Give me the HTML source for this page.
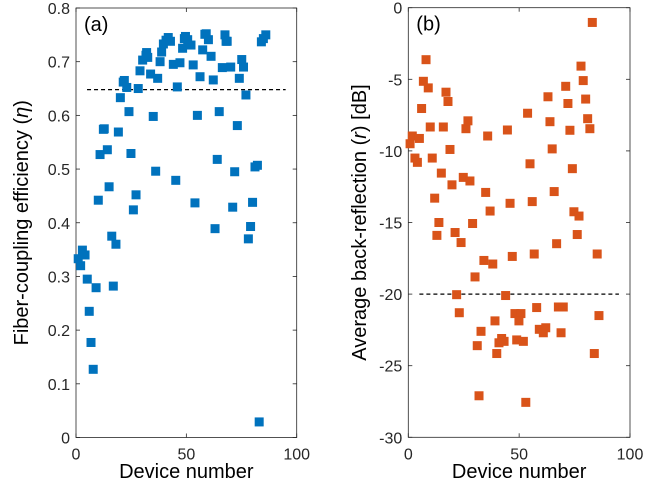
<!DOCTYPE html>
<html><head><meta charset="utf-8"><style>
html,body{margin:0;padding:0;background:#fff;}
svg{display:block;font-family:"Liberation Sans","DejaVu Sans",sans-serif;}
</style></head><body>
<svg id="fig" width="645" height="493" viewBox="0 0 645 493"></svg>
<script>
const devA=[2.9,10.1,10.9,12.4,12.8,14.2,15,16.2,18.1,19.2,20.1,21.4,21.9,23,24,24.9,26,27.2,28.2,29,30.2,31.7,32,32.5,33.8,35,36.1,37,38.1,38.8,39.6,40.8,41.8,42.8,44.1,45.2,45.9,47.1,48.3,49.1,49.6,50.6,52.1,53.1,53.9,55,56.2,57.4,58.4,59,60,61.2,62.2,63,64,64.9,66.3,67.5,68,68.5,70.1,71,71.9,73.1,74,75.1,75.9,77,78.1,79.1,80,81.1,82.2,84,84.9,86,1,2.1,4.1,5.1,6,6.8,7.8,9.1,16.9,83];
const effA=[0.349,0.442,0.527,0.574,0.575,0.536,0.467,0.375,0.360,0.569,0.633,0.662,0.665,0.652,0.607,0.529,0.424,0.452,0.650,0.683,0.703,0.712,0.717,0.708,0.677,0.598,0.496,0.669,0.700,0.718,0.733,0.740,0.745,0.738,0.695,0.479,0.653,0.698,0.725,0.743,0.747,0.741,0.731,0.694,0.437,0.600,0.672,0.722,0.751,0.752,0.741,0.710,0.666,0.389,0.518,0.607,0.689,0.750,0.738,0.738,0.690,0.429,0.495,0.581,0.669,0.704,0.690,0.638,0.370,0.393,0.438,0.504,0.507,0.737,0.743,0.750,0.333,0.320,0.340,0.295,0.235,0.177,0.127,0.279,0.282,0.029];
const devB=[0.8,1.8,3,4.1,5,6,6.8,8,9,9.9,10.8,11.9,12.9,13.8,14.9,15.8,17,17.9,18.8,19.7,21.1,23.8,24.8,26,26.9,27.8,29,34.9,35.8,36.9,44.7,45.9,53.8,54.9,55.9,63,63.9,64.9,65.8,66.9,71,72,72.9,74,74.7,77,76.2,77.9,78.9,80,80.9,81.9,83,85.2,56.8,34.1,38.1,30.1,46.9,21.8,23,43.9,48.1,50.8,49.9,57.9,67.7,69.9,86,39.1,32.8,59.1,60.9,62,68.9,42.1,43.2,40.9,48.9,51.9,31.1,39.9,83.9,31.9,53];
const refB=[-9.5,-8.96,-10.5,-10.8,-9.13,-7.04,-5.14,-3.63,-5.6,-8.33,-10.5,-13.3,-15.9,-15.0,-11.55,-8.33,-5.9,-6.55,-9.9,-12.37,-15.7,-16.4,-11.85,-8.45,-7.9,-12.1,-15.07,-12.9,-8.96,-14.2,-8.54,-13.66,-7.37,-10.9,-13.54,-6.22,-7.96,-9.86,-12.84,-16.48,-5.49,-6.69,-8.56,-11.24,-14.25,-14.55,-15.84,-4.08,-5.09,-6.38,-7.75,-8.45,-1.03,-17.2,-17.2,-17.65,-17.9,-18.8,-17.37,-20.04,-21.3,-20.1,-21.36,-21.36,-21.87,-20.94,-20.9,-20.9,-21.5,-21.87,-22.6,-22.46,-22.7,-22.35,-22.7,-23.1,-23.3,-23.4,-23.2,-23.3,-23.6,-24.15,-24.15,-27.1,-27.56];
const xTicks=[0,50,100];
const yTicksA=[0,0.1,0.2,0.3,0.4,0.5,0.6,0.7,0.8];
const yTicksB=[0,-5,-10,-15,-20,-25,-30];
const threshA=0.648, threshB=-20;

const NS="http://www.w3.org/2000/svg";
const svg=document.getElementById('fig');
function el(tag,attrs,parent){const e=document.createElementNS(NS,tag);for(const k in attrs)e.setAttribute(k,attrs[k]);(parent||svg).appendChild(e);return e;}

function panel(p){
  const g=el('g',{});
  
  
  const sx=v=>p.L+(v-0)/100*(p.R-p.L);
  const sy=v=>p.B-(v-p.ymin)/(p.ymax-p.ymin)*(p.B-p.T);
  // frame
  const fr=el('rect',{x:p.L,y:p.T,width:p.R-p.L,height:p.B-p.T,fill:'none',stroke:'#262626','stroke-width':0.8},g);
  
  
  // x ticks
  xTicks.forEach(t=>{
    const x=sx(t);
    el('line',{x1:x,y1:p.B,x2:x,y2:p.B-4,stroke:'#262626','stroke-width':0.8},g);
    el('line',{x1:x,y1:p.T,x2:x,y2:p.T+4,stroke:'#262626','stroke-width':0.8},g);
    const tx=el('text',{x:x,y:p.B+22,'text-anchor':'middle','font-size':16,fill:'#262626'},g);
    tx.textContent=t;
    
    
  });
  p.yt.forEach(t=>{
    const y=sy(t);
    el('line',{x1:p.L,y1:y,x2:p.L+4,y2:y,stroke:'#262626','stroke-width':0.8},g);
    el('line',{x1:p.R,y1:y,x2:p.R-4,y2:y,stroke:'#262626','stroke-width':0.8},g);
    const tx=el('text',{x:p.L-6,y:y+6,'text-anchor':'end','font-size':16,fill:'#262626'},g);
    tx.textContent=t;
    
    
  });
  // threshold
  const th=el('line',{x1:sx(5),y1:sy(p.th),x2:sx(95),y2:sy(p.th),stroke:'#000','stroke-width':1.3,'stroke-dasharray':'4,3'},g);
  
  
  // markers
  p.xs.forEach((xv,i)=>{
    const r=el('rect',{x:sx(xv)-4.5,y:sy(p.ys[i])-4.5,width:9,height:9,fill:p.color},g);
    
    
  });
  const lab=el('text',{x:p.L+8,y:p.T+23,'font-size':20,fill:'#000'},g);
  lab.textContent=p.label;
  
  
  const xl=el('text',{x:(p.L+p.R)/2,y:478,'text-anchor':'middle','font-size':20,fill:'#000'},g);
  xl.textContent='Device number';
  
  
  const yl=el('text',{x:0,y:0,'text-anchor':'middle','font-size':20,fill:'#000',transform:`translate(${p.yx},${(p.T+p.B)/2}) rotate(-90)`},g);
  yl.innerHTML=p.ylab;
  
  
}
panel({name:'panel-a-coupling-efficiency',L:76,R:296.7,T:8,B:437.5,ymin:0,ymax:0.8,yt:yTicksA,xs:devA,ys:effA,th:threshA,color:'#0072BD',label:'(a)',yx:28,ylab:'Fiber-coupling efficiency (<tspan font-style="italic">η</tspan>)'});
panel({name:'panel-b-back-reflection',L:408.3,R:630,T:7.7,B:437.3,ymin:-30,ymax:0,yt:yTicksB,xs:devB,ys:refB,th:threshB,color:'#D95319',label:'(b)',yx:366,ylab:'Average back-reflection (<tspan font-style="italic">r</tspan>) [dB]'});
</script>
</body></html>
